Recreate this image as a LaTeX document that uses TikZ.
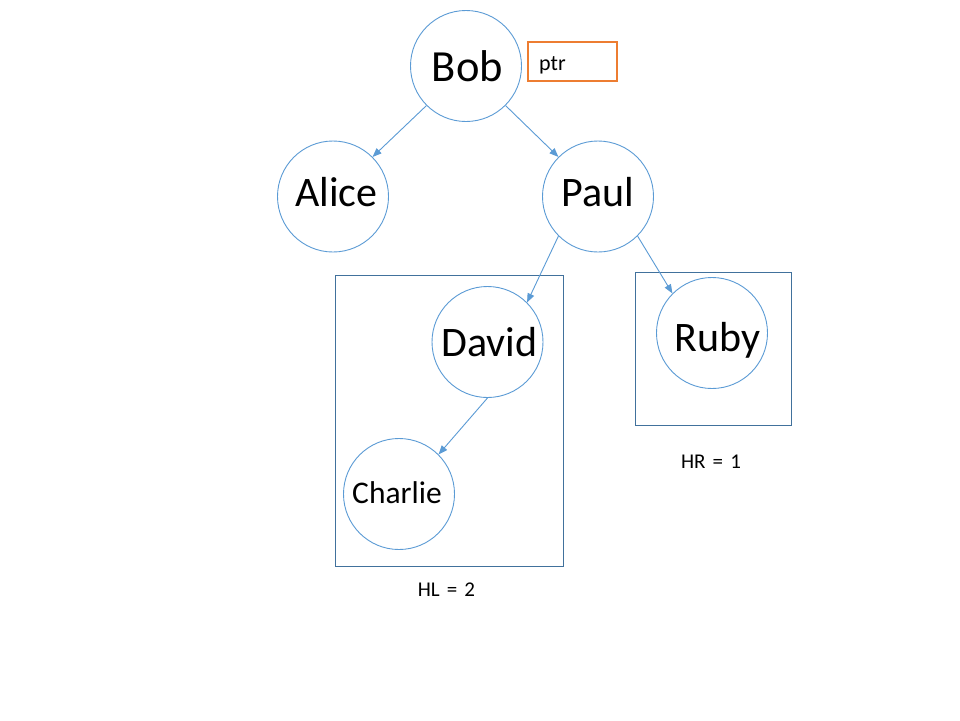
\documentclass[tikz,border=0pt]{standalone}
\usepackage{fontspec}
\setmainfont{Carlito}
\usetikzlibrary{arrows.meta}
\definecolor{circblue}{HTML}{5B9BD5}
\definecolor{boxblue}{HTML}{41719C}
\definecolor{ptrorange}{HTML}{ED7D31}
\newcommand\hlwidespace{\spaceskip=7.1pt plus 0pt minus 0pt\relax}
\tikzset{
  treenode/.style={circle, draw=circblue, line width=0.9pt, minimum size=111pt, inner sep=0pt},
  nametext/.style={anchor=base, inner sep=0pt, text=black},
  hlabel/.style={anchor=base, inner sep=0pt, text=black, font=\fontsize{21}{23}\selectfont},
  edge/.style={draw=circblue, line width=0.9pt, -{Triangle[length=9pt,width=7pt]}},
  groupbox/.style={draw=boxblue, line width=1pt},
  ptrbox/.style={draw=ptrorange, line width=1.1pt, minimum width=89pt, minimum height=39pt, inner sep=0pt},
}
\begin{document}
\begin{tikzpicture}[x=1pt,y=-1pt]
\useasboundingbox[fill=white] (0,0) rectangle (960,720);
% group boxes
\draw[groupbox] (335,275) rectangle (563,566);
\draw[groupbox] (635,272) rectangle (791,425);
% circles
\node[treenode] (Bob) at (466,66) {};
\node[treenode] (Alice) at (333,196.5) {};
\node[treenode] (Paul) at (598,196.5) {};
\node[treenode] (David) at (487.5,342) {};
\node[treenode] (Ruby) at (712,333) {};
\node[treenode] (Charlie) at (399,494) {};
% names
\node[nametext, font=\fontsize{44.5}{46}\selectfont] (tBob) at (467.5,81.5) {Bob};
\node[nametext, font=\fontsize{42}{44}\selectfont] (tAlice) at (336.5,206.6) {Alice};
\node[nametext, font=\fontsize{42}{44}\selectfont] (tPaul) at (598,206.6) {Paul};
\node[nametext, font=\fontsize{42}{44}\selectfont] (tDavid) at (489.5,356) {David};
\node[nametext, font=\fontsize{42}{44}\selectfont] (tRuby) at (717.5,351.7) {Ruby};
\node[nametext, font=\fontsize{31.5}{33}\selectfont] (tCharlie) at (397,503.3) {Charlie};
% ptr box
\node[ptrbox] (ptr) at (572.5,61.5) {};
\node[anchor=base west, inner sep=0pt, font=\fontsize{22}{24}\selectfont] (tptr) at (539,70) {ptr};
% labels
\node[hlabel] (HL) at (446.5,596) {\hlwidespace HL = 2};
\node[hlabel] (HR) at (711,468) {\hlwidespace HR = 1};
% edges
\draw[edge] (Bob.south west) -- (Alice.north east);
\draw[edge] (Bob.south east) -- (Paul.north west);
\draw[edge] (Paul.south west) -- (David.north east);
\draw[edge] (Paul.south east) -- (Ruby.north west);
\draw[edge] (David.south) -- (Charlie.north east);
\end{tikzpicture}
\end{document}
